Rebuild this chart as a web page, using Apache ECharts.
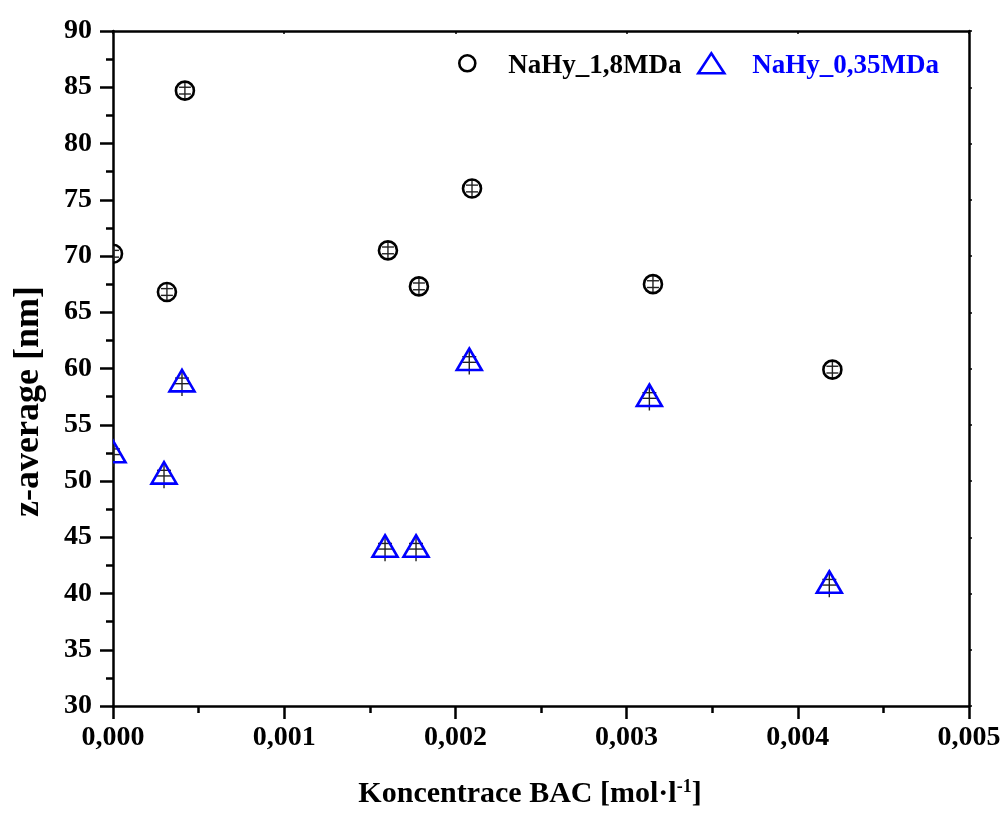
<!DOCTYPE html>
<html>
<head>
<meta charset="utf-8">
<script src="https://cdn.jsdelivr.net/npm/echarts@6/dist/echarts.min.js"></script>
<style>
  html, body { margin: 0; padding: 0; background: #fff; }
  #chart { width: 1005px; height: 819px; }
</style>
</head>
<body>
<div id="chart"></div>
<script>
// koncentrace BAC [mol/l] a z-average [nm]
const bacA = [0, 0.000315, 0.00042, 0.001606, 0.001787, 0.002097, 0.003154, 0.004202];
const zavgA = [70.2, 66.8, 84.7, 70.5, 67.3, 76.0, 67.5, 59.9];
const errA = [0.3, 0.3, 0.3, 0.3, 0.3, 0.3, 0.3, 0.3];

const bacB = [0, 0.000298, 0.000403, 0.001589, 0.00177, 0.002081, 0.003133, 0.004184];
const zavgB = [52.6, 50.7, 58.9, 44.2, 44.2, 60.8, 57.6, 41.0];
const errB = [0.25, 0.25, 0.25, 0.25, 0.25, 0.25, 0.25, 0.25];

const nameA = 'NaHy_1,8MDa';
const nameB = 'NaHy_0,35MDa';

const FONT = "'Liberation Serif', 'Times New Roman', serif";

// marker + error bar, clipped to the plot area
function makeRender(kind, color) {
  return function (params, api) {
    const x = api.value(0), y = api.value(1), e = api.value(2);
    const c = api.coord([x, y]);
    const yTop = api.coord([x, y + e])[1];
    const yBot = api.coord([x, y - e])[1];
    const cs = params.coordSys;
    const capW = kind === 'tri' ? 7 : 6;
    const lineUp = 9, lineDown = kind === 'tri' ? 15 : 9;
    const errStyle = { stroke: '#222', lineWidth: 1.4 };
    const children = [
      { type: 'line', shape: { x1: c[0], y1: c[1] - lineUp, x2: c[0], y2: c[1] + lineDown }, style: errStyle },
      { type: 'line', shape: { x1: c[0] - capW, y1: yTop, x2: c[0] + capW, y2: yTop }, style: errStyle },
      { type: 'line', shape: { x1: c[0] - capW, y1: yBot, x2: c[0] + capW, y2: yBot }, style: errStyle }
    ];
    if (kind === 'tri') {
      children.push({
        type: 'polygon',
        shape: { points: [[c[0], c[1] - 11], [c[0] + 12.5, c[1] + 10.5], [c[0] - 12.5, c[1] + 10.5]] },
        style: { fill: 'none', stroke: color, lineWidth: 2.6, lineJoin: 'miter' }
      });
    } else {
      children.push({
        type: 'circle',
        shape: { cx: c[0], cy: c[1], r: 9 },
        style: { fill: 'none', stroke: color, lineWidth: 2.6 }
      });
    }
    return {
      type: 'group',
      children: children,
      clipPath: { type: 'rect', shape: { x: cs.x, y: cs.y, width: cs.width, height: cs.height } }
    };
  };
}

// legend icons: symbol centred in a 72x22 box
const iconCircle = 'path://M0,0 M72,22 M44,11 A8,8 0 1,1 28,11 A8,8 0 1,1 44,11 Z';
const iconTri = 'path://M0,0 M72,22 M36,1 L49,21 L23,21 Z';

function legendText(color) {
  return {
    fontFamily: FONT, fontWeight: 'bold', fontSize: 27, color: color,
    rich: { t: { fontFamily: FONT, fontWeight: 'bold', fontSize: 27, color: color, padding: [6, 0, 0, 0] } }
  };
}

const chart = echarts.init(document.getElementById('chart'));

const axisCommon = {
  axisLine: { show: true, onZero: false, lineStyle: { color: '#000', width: 2.5 } },
  splitLine: { show: false }
};

const option = {
  backgroundColor: '#fff',
  animation: false,
  grid: { left: 113, right: 36, top: 31, bottom: 113 },
  legend: [
    {
      left: 430, top: 51, padding: 0, itemWidth: 72, itemHeight: 22,
      selectedMode: false,
      formatter: n => '{t|' + n + '}',
      data: [{ name: nameA, icon: iconCircle, itemStyle: { color: 'rgba(0,0,0,0)', borderColor: '#000', borderWidth: 2.6 } }],
      textStyle: legendText('#000')
    },
    {
      left: 674, top: 51, padding: 0, itemWidth: 72, itemHeight: 22,
      selectedMode: false,
      formatter: n => '{t|' + n + '}',
      data: [{ name: nameB, icon: iconTri, itemStyle: { color: 'rgba(0,0,0,0)', borderColor: '#0000ff', borderWidth: 2.6 } }],
      textStyle: legendText('#0000ff')
    }
  ],
  xAxis: [
    Object.assign({}, axisCommon, {
      type: 'value', position: 'bottom', min: 0, max: 0.005, interval: 0.001,
      axisTick: { show: true, length: 13, lineStyle: { color: '#000', width: 2.5 } },
      minorTick: { show: true, splitNumber: 2, length: 7, lineStyle: { color: '#000', width: 2.5 } },
      axisLabel: {
        margin: 18, fontSize: 28, fontWeight: 'bold', fontFamily: FONT, color: '#000',
        formatter: v => v.toFixed(3).replace('.', ',')
      },
      name: 'Koncentrace BAC [mol·l{s|-1}]',
      nameLocation: 'middle', nameGap: 72,
      nameTextStyle: {
        fontSize: 30, fontWeight: 'bold', fontFamily: FONT, color: '#000', padding: [0, 22, 0, 0],
        rich: { s: { fontSize: 18, fontWeight: 'bold', fontFamily: FONT, color: '#000', verticalAlign: 'top', padding: [0, 0, 14, 0] } }
      }
    }),
    Object.assign({}, axisCommon, {
      type: 'value', position: 'top', min: 0, max: 0.005, interval: 0.001,
      axisTick: { show: true, inside: true, length: 3, lineStyle: { color: '#000', width: 1.5 } },
      axisLabel: { show: false }
    })
  ],
  yAxis: [
    Object.assign({}, axisCommon, {
      type: 'value', position: 'left', min: 30, max: 90, interval: 5,
      axisTick: { show: true, length: 13, lineStyle: { color: '#000', width: 2.5 } },
      minorTick: { show: true, splitNumber: 2, length: 7, lineStyle: { color: '#000', width: 2.5 } },
      axisLabel: { margin: 21, fontSize: 28, fontWeight: 'bold', fontFamily: FONT, color: '#000' },
      name: 'z-average [nm]',
      nameLocation: 'middle', nameGap: 66,
      nameTextStyle: { fontSize: 36, fontWeight: 'bold', fontFamily: FONT, color: '#000', padding: [0, 66, 0, 0] }
    }),
    Object.assign({}, axisCommon, {
      type: 'value', position: 'right', min: 30, max: 90, interval: 5,
      axisTick: { show: true, inside: false, length: 3, lineStyle: { color: '#000', width: 1.5 } },
      axisLabel: { show: false }
    })
  ],
  series: [
    {
      name: nameA, type: 'custom', xAxisIndex: 0, yAxisIndex: 0,
      renderItem: makeRender('circle', '#000'),
      data: bacA.map((x, i) => [x, zavgA[i], errA[i]])
    },
    {
      name: nameB, type: 'custom', xAxisIndex: 0, yAxisIndex: 0,
      renderItem: makeRender('tri', '#0000ff'),
      data: bacB.map((x, i) => [x, zavgB[i], errB[i]])
    }
  ]
};

chart.setOption(option);
</script>
</body>
</html>
